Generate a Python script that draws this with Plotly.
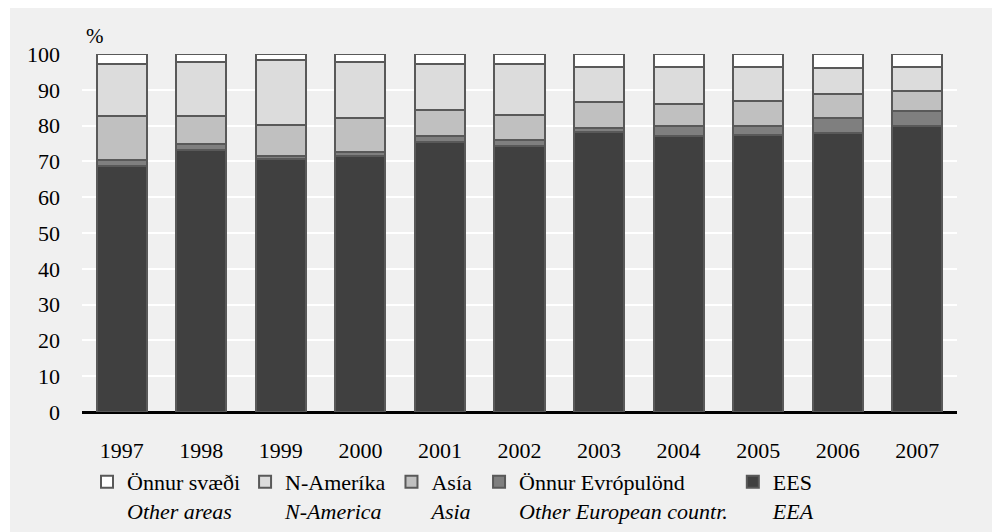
import plotly.graph_objects as go

years = ["1997", "1998", "1999", "2000", "2001", "2002", "2003", "2004", "2005", "2006", "2007"]
eea = [68.6, 73.1, 70.7, 71.4, 75.3, 74.2, 78.1, 77.0, 77.5, 77.9, 79.8]
other_europe = [1.9, 1.8, 0.7, 1.1, 1.7, 1.7, 1.1, 2.8, 2.3, 4.1, 4.4]
asia = [12.1, 7.7, 8.9, 9.5, 7.4, 7.2, 7.5, 6.1, 7.2, 6.7, 5.6]
n_america = [14.6, 15.2, 18.1, 15.7, 12.8, 14.1, 9.8, 10.5, 9.5, 7.3, 6.7]
other_areas = [2.8, 2.2, 1.6, 2.3, 2.8, 2.8, 3.5, 3.6, 3.5, 4.0, 3.5]

series = [
    ("EES<br><i>EEA</i>", eea, "#404040"),
    ("Önnur Evrópulönd<br><i>Other European countr.</i>", other_europe, "#7f7f7f"),
    ("Asía<br><i>Asia</i>", asia, "#c0c0c0"),
    ("N-Ameríka<br><i>N-America</i>", n_america, "#dcdcdc"),
    ("Önnur svæði<br><i>Other areas</i>", other_areas, "#ffffff"),
]

fig = go.Figure()
for name, vals, color in series:
    fig.add_trace(go.Bar(
        x=years, y=vals, name=name,
        marker=dict(color=color, line=dict(color="#595959", width=2)),
    ))

FONT = "Liberation Serif"
# figure sits at page offset (8, 8) because of the body margin
W, H = 984, 524
L, R, T, B = 74, 35, 46, 120
pw, ph = W - L - R, H - T - B
y0px = H - B  # pixel of y=0 in figure coords

fig.update_layout(
    width=W, height=H,
    barmode="stack", bargap=0.37,
    margin=dict(l=L, r=R, t=T, b=B, autoexpand=False),
    paper_bgcolor="white",
    plot_bgcolor="#dcdcdc",
    font=dict(family=FONT, size=22, color="black"),
    showlegend=True,
    legend=dict(
        orientation="h", traceorder="reversed", valign="top",
        x=(79 - L) / pw, xanchor="left", y=(y0px - 453) / ph, yanchor="top",
        bgcolor="rgba(0,0,0,0)", font=dict(family=FONT, size=22),
        itemwidth=30, tracegroupgap=0,
    ),
    xaxis=dict(
        showgrid=False, ticks="", showline=False,
        ticklabelstandoff=23,
    ),
    yaxis=dict(
        range=[0, 100], dtick=10, showgrid=True, gridcolor="white", gridwidth=2,
        zeroline=True, zerolinecolor="black", zerolinewidth=3,
        ticks="", showline=False, ticklabelstandoff=21,
    ),
    shapes=[dict(
        type="rect", xref="paper", yref="paper", layer="below",
        x0=(2 - L) / pw, x1=(W + 5 - L) / pw,
        y0=(y0px - H - 5) / ph, y1=(y0px + 5) / ph,
        fillcolor="#f0f0f0", line=dict(width=0),
    )],
    annotations=[dict(
        text="%", xref="paper", yref="paper",
        x=(87 - L) / pw, y=(y0px - 28) / ph,
        xanchor="center", yanchor="middle", showarrow=False,
        font=dict(family=FONT, size=21),
    )],
)

fig.write_html("out.html")
